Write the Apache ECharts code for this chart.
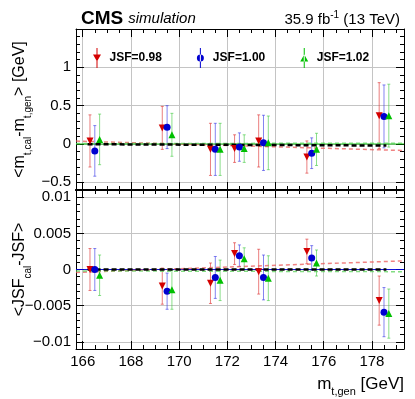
<!DOCTYPE html>
<html>
<head>
<meta charset="utf-8">
<script src="https://cdn.jsdelivr.net/npm/echarts@6/dist/echarts.min.js"></script>
<style>
  html, body { margin: 0; padding: 0; background: #fff; }
  #chart { width: 415px; height: 399px; }
</style>
</head>
<body>
<div id="chart"></div>
<script>
// generated top-quark masses, the three JSF sets are drawn slightly apart
const masses = [166.5, 169.5, 171.5, 172.5, 173.5, 175.5, 178.5];
const jsfNames = ['JSF=0.98', 'JSF=1.00', 'JSF=1.02'];

// upper panel: <m_t,cal - m_t,gen> [GeV]
const mt098 = [0.04, 0.21, -0.07, -0.06, 0.04, -0.17, 0.37];
const mt098Err = [0.34, 0.28, 0.34, 0.18, 0.34, 0.21, 0.43];
const mt100 = [-0.09, 0.22, -0.07, -0.04, 0.015, -0.12, 0.36];
const mt100Err = [0.33, 0.28, 0.34, 0.185, 0.36, 0.2, 0.41];
const mt102 = [0.06, 0.12, -0.07, -0.06, 0.015, -0.07, 0.37];
const mt102Err = [0.33, 0.28, 0.34, 0.18, 0.35, 0.21, 0.41];

// lower panel: <JSF_cal - JSF>
const jsf098 = [0.0, -0.0023, -0.0019, 0.0022, -0.0003, 0.0025, -0.0043];
const jsf098Err = [0.0029, 0.0025, 0.0028, 0.0015, 0.0031, 0.0017, 0.0034];
const jsf100 = [0.0, -0.003, -0.0011, 0.0019, -0.0011, 0.0016, -0.0059];
const jsf100Err = [0.0029, 0.0025, 0.0029, 0.0015, 0.0031, 0.0017, 0.0034];
const jsf102 = [-0.0008, -0.0028, -0.0015, 0.0015, -0.0012, 0.0009, -0.0061];
const jsf102Err = [0.0028, 0.0027, 0.0028, 0.0015, 0.0031, 0.0018, 0.0034];

// straight-line fits (end points)
const fitX = [165.72, 179.33];
const fitAllX = [166.2, 178.6];
const mtFit098 = [0.038, -0.085];
const mtFit102 = [0.006, 0.01];
const mtFitAll = [-0.003, -0.02];
const mtZero = [0, 0];
const jsfFit098 = [-0.0004, 0.0012];
const jsfFit102 = [-0.0002, -0.0003];
const jsfFitAll = [0.0, 0.0];
const jsfZero = [0, 0];

const X_MIN = 165.72, X_MAX = 179.33;
const shift = [-0.2, 0, 0.2];
const colors = ['#d40000', '#0000d0', '#00c000'];
const barColors = ['rgba(220,40,40,0.6)', 'rgba(50,50,230,0.6)', 'rgba(60,200,60,0.6)'];
const symbols = ['triangle', 'circle', 'triangle'];
const rotates = [180, 0, 0];
const legendIcons = [
  'path://M3.5,0h1v20h-1z M0,6.5h8l-4,7z',
  'path://M3.5,0h1v20h-1z M0.5,10a3.5,3.5 0 1,0 7,0a3.5,3.5 0 1,0 -7,0z',
  'path://M3.5,0h1v20h-1z M0,13.5h8l-4,-7z'
];
const font = 'Liberation Sans, Arial, sans-serif';

function fmt(v) {
  if (Math.abs(v) < 1e-12) return '0';
  return String(parseFloat(v.toPrecision(6))).replace('-', '\u2212');
}

function xAxisPair(grid, pos, labels, lineW) {
  const base = {
    type: 'value', gridIndex: grid, position: pos, min: X_MIN, max: X_MAX
  };
  const major = Object.assign({}, base, {
    splitNumber: 7,
    axisLine: { show: true, onZero: false, lineStyle: { color: '#000', width: lineW } },
    axisTick: { inside: true, length: 8, lineStyle: { color: '#000' } },
    axisLabel: labels ? { show: true, fontSize: 15, fontFamily: font, color: '#000', margin: 5,
      showMinLabel: false, showMaxLabel: false } : { show: false },
    splitLine: { show: pos === 'bottom', lineStyle: { color: '#c4c4c4', width: 1 } }
  });
  const minor = Object.assign({}, base, {
    splitNumber: 27,
    axisLine: { show: false, onZero: false },
    axisTick: { inside: true, length: 4, lineStyle: { color: '#000' } },
    axisLabel: { show: false },
    splitLine: { show: false }
  });
  return [major, minor];
}

function yAxisPair(grid, pos, min, max, minorSplit, labels) {
  const base = { type: 'value', gridIndex: grid, position: pos, min: min, max: max };
  const major = Object.assign({}, base, {
    splitNumber: 4,
    axisLine: { show: true, onZero: false, lineStyle: { color: '#000', width: 1 } },
    axisTick: { inside: true, length: 8, lineStyle: { color: '#000' } },
    axisLabel: labels ? { show: true, fontSize: 15, fontFamily: font, color: '#000', margin: 5,
      formatter: fmt, showMinLabel: false, showMaxLabel: false } : { show: false },
    splitLine: { show: pos === 'left', lineStyle: { color: '#c4c4c4', width: 1 } }
  });
  const minor = Object.assign({}, base, {
    splitNumber: minorSplit,
    axisLine: { show: false, onZero: false },
    axisTick: { inside: true, length: 4, lineStyle: { color: '#000' } },
    axisLabel: { show: false },
    splitLine: { show: false }
  });
  return [major, minor];
}

const xAxes = [].concat(
  xAxisPair(0, 'bottom', false, 2),
  xAxisPair(0, 'top', false, 1),
  xAxisPair(1, 'bottom', true, 1),
  xAxisPair(1, 'top', false, 2)
);
xAxes[4].name = '{t|m}{s|t,gen}{t| [GeV]}';
xAxes[4].nameLocation = 'end';
xAxes[4].nameGap = 0;
xAxes[4].nameMoveOverlap = false;
xAxes[4].nameTextStyle = {
  align: 'right', verticalAlign: 'top', padding: [22, 0, 0, 0],
  rich: {
    t: { fontSize: 17, fontFamily: font, color: '#000', lineHeight: 26 },
    s: { fontSize: 11, fontFamily: font, color: '#000', lineHeight: 11, verticalAlign: 'bottom' }
  }
};

const yAxes = [].concat(
  yAxisPair(0, 'left', -0.6, 1.5, 21, true),
  yAxisPair(0, 'right', -0.6, 1.5, 21, false),
  yAxisPair(1, 'left', -0.011, 0.011, 22, true),
  yAxisPair(1, 'right', -0.011, 0.011, 22, false)
);
const nameRich = {
  t: { fontSize: 16, fontFamily: font, color: '#000', lineHeight: 26 },
  s: { fontSize: 10, fontFamily: font, color: '#000', lineHeight: 10, verticalAlign: 'bottom' }
};
[[0, '{t|<m}{s|t,cal}{t|-m}{s|t,gen}{t|> [GeV]}'], [4, '{t|<JSF}{s|cal}{t|-JSF>}']].forEach(p => {
  const ax = yAxes[p[0]];
  ax.name = p[1];
  ax.nameLocation = 'middle';
  ax.nameRotate = 90;
  ax.nameGap = 43;
  ax.nameMoveOverlap = false;
  ax.nameTextStyle = { rich: nameRich };
});

function errorBars(xi, yi, vals, errs, k) {
  return {
    type: 'custom', xAxisIndex: xi, yAxisIndex: yi, z: 2, silent: true,
    data: masses.map((m, i) => [m + shift[k], vals[i] - errs[i], vals[i] + errs[i]]),
    encode: { x: 0, y: [1, 2] },
    renderItem: function (params, api) {
      const lo = api.coord([api.value(0), api.value(1)]);
      const hi = api.coord([api.value(0), api.value(2)]);
      const st = { stroke: barColors[k], lineWidth: 1 };
      return {
        type: 'group',
        children: [
          { type: 'line', shape: { x1: lo[0], y1: lo[1], x2: hi[0], y2: hi[1] }, style: st },
          { type: 'line', shape: { x1: lo[0] - 1.5, y1: lo[1], x2: lo[0] + 1.5, y2: lo[1] }, style: st },
          { type: 'line', shape: { x1: hi[0] - 1.5, y1: hi[1], x2: hi[0] + 1.5, y2: hi[1] }, style: st }
        ]
      };
    }
  };
}

function markers(xi, yi, vals, k) {
  return {
    type: 'scatter', name: jsfNames[k], xAxisIndex: xi, yAxisIndex: yi, z: 5,
    symbol: symbols[k], symbolRotate: rotates[k], symbolSize: 7,
    itemStyle: { color: colors[k], opacity: 1 },
    data: masses.map((m, i) => [m + shift[k], vals[i]])
  };
}

function fitLine(xi, yi, xs, ys, color, width, type, z) {
  return {
    type: 'line', xAxisIndex: xi, yAxisIndex: yi, z: z, silent: true,
    symbol: 'none', animation: false,
    lineStyle: { color: color, width: width, type: type },
    data: [[xs[0], ys[0]], [xs[1], ys[1]]]
  };
}

const series = [];
const upper = [[mt098, mt098Err], [mt100, mt100Err], [mt102, mt102Err]];
const lower = [[jsf098, jsf098Err], [jsf100, jsf100Err], [jsf102, jsf102Err]];
upper.forEach((d, k) => series.push(errorBars(0, 0, d[0], d[1], k)));
lower.forEach((d, k) => series.push(errorBars(4, 4, d[0], d[1], k)));

series.push(fitLine(0, 0, fitX, mtZero, 'rgba(0,190,0,0.9)', 1, 'solid', 3));
series.push(fitLine(0, 0, fitX, mtFit098, 'rgba(235,90,90,0.75)', 1.5, [4, 3], 3));
series.push(fitLine(0, 0, fitX, mtFit102, 'rgba(90,210,90,0.75)', 1.5, [4, 3], 3));
series.push(fitLine(0, 0, fitAllX, mtFitAll, '#000', 2.5, [5, 3], 4));
series.push(fitLine(4, 4, fitX, jsfZero, 'rgba(0,0,220,0.9)', 1, 'solid', 3));
series.push(fitLine(4, 4, fitX, jsfFit098, 'rgba(235,90,90,0.75)', 1.5, [4, 3], 3));
series.push(fitLine(4, 4, fitX, jsfFit102, 'rgba(90,210,90,0.75)', 1.5, [4, 3], 3));
series.push(fitLine(4, 4, fitAllX, jsfFitAll, '#000', 2.5, [5, 3], 4));

upper.forEach((d, k) => series.push(markers(0, 0, d[0], k)));
lower.forEach((d, k) => series.push(markers(4, 4, d[0], k)));

const chart = echarts.init(document.getElementById('chart'));
chart.setOption({
  animation: false,
  title: [
    {
      text: '{a|CMS} {b|simulation}', left: 76, top: 4,
      textStyle: {
        fontWeight: 'normal',
        rich: {
          a: { fontSize: 19, fontWeight: 'bold', fontFamily: font, color: '#000' },
          b: { fontSize: 15, fontWeight: 'normal', fontStyle: 'italic', fontFamily: font, color: '#000' }
        }
      }
    },
    {
      text: '{t|35.9 fb}{u|-1}{t| (13 TeV)}', right: 10, top: 5,
      textStyle: {
        fontWeight: 'normal',
        rich: {
          t: { fontSize: 15, fontWeight: 'normal', fontFamily: font, color: '#000', lineHeight: 20 },
          u: { fontSize: 10, fontWeight: 'normal', fontFamily: font, color: '#000', lineHeight: 10, verticalAlign: 'top' }
        }
      }
    }
  ],
  legend: {
    data: jsfNames.map((n, k) => ({ name: n, icon: legendIcons[k] })),
    left: 88, top: 43, itemWidth: 15, itemHeight: 20, itemGap: 35,
    textStyle: { fontSize: 12, fontWeight: 'bold', fontFamily: font, color: '#000' }
  },
  grid: [
    { left: 76, right: 11, top: 29, height: 161, outerBoundsMode: 'none', containLabel: false },
    { left: 76, right: 11, top: 190, height: 159, outerBoundsMode: 'none', containLabel: false }
  ],
  xAxis: xAxes,
  yAxis: yAxes,
  series: series
});
</script>
</body>
</html>
